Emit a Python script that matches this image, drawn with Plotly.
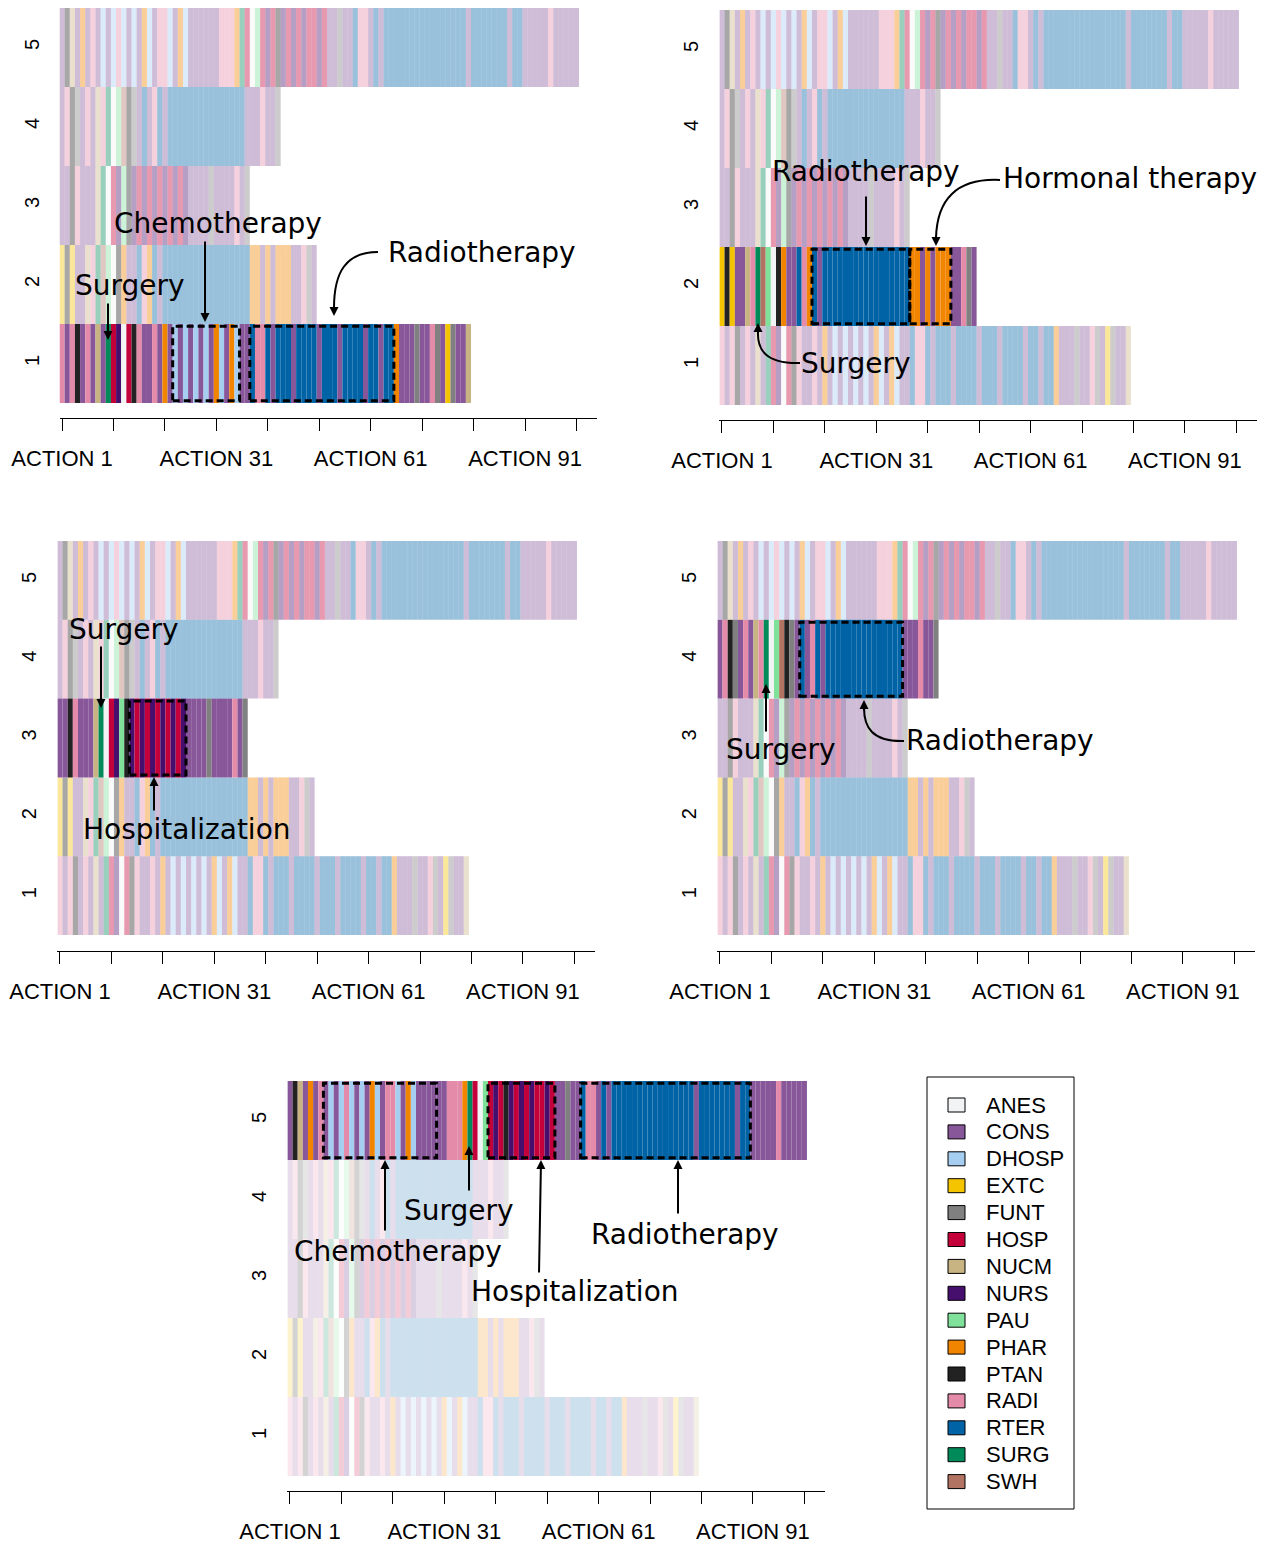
import plotly.graph_objects as go

W, H = 1274, 1544

# ---------------- data ----------------
STATES = ["ANES", "CONS", "DHOSP", "EXTC", "FUNT", "HOSP", "NUCM", "NURS",
          "PAU", "PHAR", "PTAN", "RADI", "RTER", "SURG", "SWH"]
STATE_COLORS = ["#F2F3F5", "#88579A", "#A6CEF0", "#F5C400", "#808080", "#C4003A",
                "#C8B482", "#460F6E", "#80E29A", "#F28500", "#222222", "#E58BAA",
                "#0063A6", "#008A5A", "#B37363"]

SEQ_1 = ["RADI", "CONS", "RADI", "PTAN", "CONS", "RADI", "CONS", "NUCM", "CONS", "SURG",
         "HOSP", "NURS", "ANES", "HOSP", "PTAN", "RADI", "CONS", "CONS", "RADI", "CONS",
         "PHAR", "CONS", "DHOSP", "CONS", "DHOSP", "CONS", "DHOSP", "CONS", "DHOSP", "CONS",
         "PHAR", "DHOSP", "CONS", "PHAR", "DHOSP", "CONS", "CONS", "RTER", "RADI", "RADI",
         "RTER", "CONS", "RTER", "RTER", "RTER", "CONS", "RTER", "RTER", "RTER", "RTER",
         "CONS", "RTER", "RTER", "RTER", "CONS", "RTER", "RTER", "RTER", "RTER", "CONS",
         "RTER", "RTER", "CONS", "RTER", "RTER", "PHAR", "CONS", "CONS", "CONS", "FUNT",
         "CONS", "CONS", "RADI", "FUNT", "CONS", "EXTC", "FUNT", "CONS", "CONS", "NUCM"]

SEQ_2 = ["EXTC", "PTAN", "EXTC", "CONS", "CONS", "NUCM", "RADI", "SURG", "SWH", "PAU",
         "ANES", "PTAN", "PHAR", "CONS", "CONS", "RTER", "RADI", "PHAR", "RTER", "CONS",
         "RTER", "RTER", "RTER", "RTER", "RTER", "RTER", "RTER", "RTER", "RTER", "RTER",
         "RTER", "RTER", "RTER", "RTER", "RTER", "RTER", "RTER", "PHAR", "PHAR", "CONS",
         "PHAR", "CONS", "PHAR", "PHAR", "PHAR", "CONS", "CONS", "RADI", "FUNT", "CONS"]

SEQ_3 = ["CONS", "CONS", "PTAN", "RADI", "CONS", "CONS", "CONS", "NUCM", "SURG", "ANES",
         "HOSP", "NURS", "PAU", "PTAN", "NURS", "HOSP", "NURS", "HOSP", "NURS", "HOSP",
         "NURS", "HOSP", "NURS", "HOSP", "NURS", "CONS", "CONS", "CONS", "CONS", "FUNT",
         "CONS", "CONS", "CONS", "CONS", "RADI", "CONS", "FUNT"]

SEQ_4 = ["CONS", "RADI", "PTAN", "FUNT", "CONS", "RADI", "CONS", "NUCM", "RADI", "SURG",
         "ANES", "PAU", "SWH", "PTAN", "FUNT", "CONS", "RTER", "CONS", "RADI", "RTER",
         "CONS", "RTER", "RTER", "RTER", "RTER", "RTER", "RTER", "RTER", "RTER", "RTER",
         "RTER", "RTER", "RTER", "RTER", "RTER", "RTER", "CONS", "CONS", "CONS", "RADI",
         "CONS", "CONS", "FUNT"]

SEQ_5 = ["CONS", "PTAN", "NUCM", "CONS", "PHAR", "CONS", "RADI", "CONS", "DHOSP", "CONS",
         "DHOSP", "RADI", "DHOSP", "CONS", "DHOSP", "CONS", "PHAR", "DHOSP", "CONS", "RADI",
         "RADI", "DHOSP", "CONS", "PHAR", "DHOSP", "CONS", "CONS", "CONS", "CONS", "CONS",
         "CONS", "RADI", "RADI", "RADI", "PHAR", "SURG", "HOSP", "ANES", "PAU", "HOSP",
         "NURS", "HOSP", "PTAN", "NURS", "HOSP", "NURS", "HOSP", "NURS", "HOSP", "HOSP",
         "NURS", "HOSP", "CONS", "CONS", "FUNT", "CONS", "CONS", "RTER", "RADI", "RADI",
         "CONS", "RTER", "CONS", "RTER", "RTER", "RTER", "RTER", "RTER", "RTER", "RTER",
         "RTER", "RTER", "RTER", "RTER", "RTER", "RTER", "RTER", "RTER", "RTER", "CONS",
         "RTER", "RTER", "RTER", "RTER", "RTER", "RTER", "RTER", "CONS", "RTER", "RTER",
         "CONS", "CONS", "CONS", "CONS", "CONS", "RADI", "CONS", "CONS", "CONS", "CONS",
         "CONS"]

SEQUENCES = [SEQ_1, SEQ_2, SEQ_3, SEQ_4, SEQ_5]
ROW_LABELS = ["1", "2", "3", "4", "5"]
TICK_VALUES = [1, 11, 21, 31, 41, 51, 61, 71, 81, 91, 101]
TICK_LABELS = ["ACTION 1", "", "", "ACTION 31", "", "", "ACTION 61", "", "", "ACTION 91", ""]

# highlighted row per panel, and highlighted spans (0-based first, last action)
HIGHLIGHT_ROW = [1, 2, 3, 4, 5]
HIGHLIGHT_SPANS = [
    [(22, 34), (37, 64)],
    [(18, 36), (37, 44)],
    [(14, 24)],
    [(16, 35)],
    [(7, 28), (39, 51), (57, 89)],
]

# ---------------- layout geometry (pixels) ----------------
PX_PER_ACTION = 5.144
X_MAX = 105.0
PANELS = [
    dict(x0=59.5, top=8, bottom=403, axis=418, alpha=0.4),
    dict(x0=719.4, top=10, bottom=405, axis=420, alpha=0.4),
    dict(x0=57.4, top=541, bottom=935, axis=951, alpha=0.4),
    dict(x0=717.4, top=541, bottom=935, axis=951, alpha=0.4),
    dict(x0=287.4, top=1081, bottom=1476, axis=1491, alpha=0.2),
]


def fx(x):
    return x / W


def fy(y):
    return 1 - y / H


def rgba(hexc, a):
    h = hexc.lstrip("#")
    r, g, b = int(h[0:2], 16), int(h[2:4], 16), int(h[4:6], 16)
    return f"rgba({r},{g},{b},{a})"


state_color = dict(zip(STATES, STATE_COLORS))

fig = go.Figure()
layout = dict(
    width=W, height=H, margin=dict(l=0, r=0, t=0, b=0, pad=0, autoexpand=False),
    paper_bgcolor="white", plot_bgcolor="white",
    barmode="overlay", showlegend=False,
    font=dict(family="Liberation Sans, Arial, sans-serif", color="black"),
)
shapes = []
annotations = []

for p, cfg in enumerate(PANELS, start=1):
    hl = HIGHLIGHT_ROW[p - 1]
    xs, bases, cols = [], [], []
    for r, seq in enumerate(SEQUENCES, start=1):
        a = 1.0 if r == hl else cfg["alpha"]
        for i, s in enumerate(seq):
            xs.append(i + 1)
            bases.append(r - 0.5)
            cols.append(rgba(state_color[s], a))
    xa = "x" if p == 1 else f"x{p}"
    ya = "y" if p == 1 else f"y{p}"
    fig.add_trace(go.Bar(
        x=xs, y=[1] * len(xs), base=bases, width=1,
        marker=dict(color=cols, line=dict(width=0)),
        xaxis=xa, yaxis=ya, hoverinfo="skip", showlegend=False,
    ))
    x1px = cfg["x0"] + (X_MAX - 0.5) * PX_PER_ACTION
    xkey = "xaxis" if p == 1 else f"xaxis{p}"
    ykey = "yaxis" if p == 1 else f"yaxis{p}"
    layout[xkey] = dict(
        domain=[fx(cfg["x0"]), fx(x1px)], range=[0.5, X_MAX],
        anchor="free", position=fy(cfg["axis"]), automargin=False,
        showline=True, linecolor="black", linewidth=1,
        ticks="outside", ticklen=12, tickwidth=1, tickcolor="black",
        tickvals=TICK_VALUES, ticktext=TICK_LABELS,
        tickfont=dict(size=22, family="Liberation Sans, Arial", color="black"),
        ticklabelstandoff=9,
        showgrid=False, zeroline=False, fixedrange=True,
    )
    layout[ykey] = dict(
        domain=[fy(cfg["bottom"]), fy(cfg["top"])], range=[0.5, 5.5],
        anchor=xa, automargin=False, tickvals=[1, 2, 3, 4, 5], ticktext=ROW_LABELS,
        tickangle=-90, ticks="", showline=False, showgrid=False, zeroline=False,
        tickfont=dict(size=20, family="Liberation Sans, Arial", color="black"),
        ticklabelstandoff=16, fixedrange=True,
    )
    for (s0, s1) in HIGHLIGHT_SPANS[p - 1]:
        shapes.append(dict(
            type="rect", xref=xa, yref=ya,
            x0=s0 + 0.5, x1=s1 + 1.5, y0=hl - 0.47, y1=hl + 0.47,
            line=dict(color="black", width=3, dash="7px,4px"),
            fillcolor="rgba(0,0,0,0)",
        ))

# ---------------- annotation texts ----------------
LABEL_FONT = dict(family="DejaVu Sans", size=28, color="black")
TEXTS = [
    ("Chemotherapy", 218, 224), ("Surgery", 130, 285), ("Radiotherapy", 482, 252),
    ("Radiotherapy", 866, 172), ("Hormonal therapy", 1130, 179), ("Surgery", 856, 364),
    ("Surgery", 124, 629), ("Hospitalization", 187, 829),
    ("Surgery", 781, 750), ("Radiotherapy", 1000, 741),
    ("Chemotherapy", 398, 1251), ("Surgery", 459, 1210),
    ("Hospitalization", 575, 1291), ("Radiotherapy", 685, 1234),
]
for t, cx, cy in TEXTS:
    annotations.append(dict(
        text=t, x=fx(cx), y=fy(cy), xref="paper", yref="paper",
        xanchor="center", yanchor="middle", showarrow=False, font=LABEL_FONT,
    ))

# straight arrows: tail (x, y) -> tip (x, y)
STRAIGHT_ARROWS = [
    (205, 240, 205, 322), (108, 302, 108, 340),
    (866, 195, 866, 246),
    (101, 645, 101, 708), (154, 812, 154, 777),
    (766, 733, 766, 684),
    (385, 1232, 385, 1160), (469, 1192, 469, 1146),
    (539, 1274, 541, 1160), (678, 1215, 678, 1160),
]
for tx, ty, hx, hy in STRAIGHT_ARROWS:
    annotations.append(dict(
        text="", x=fx(hx), y=fy(hy), xref="paper", yref="paper",
        ax=tx - hx, ay=ty - hy, axref="pixel", ayref="pixel",
        showarrow=True, arrowhead=2, arrowsize=0.9, arrowwidth=2,
        arrowcolor="black", standoff=0,
    ))

# curved arrows: start, control1, control2, end, tip
CURVES = [
    ((378, 252), (346, 252), (334, 272), (334, 308), (334, 316)),
    ((1000, 180), (956, 178), (937, 200), (936, 238), (936, 246)),
    ((800, 363), (766, 364), (757, 350), (758, 331), (758, 323)),
    ((904, 741), (872, 742), (864, 727), (864, 708), (864, 700)),
]
for (s, c1, c2, e, tip) in CURVES:
    path = (f"M {fx(s[0])},{fy(s[1])} C {fx(c1[0])},{fy(c1[1])} "
            f"{fx(c2[0])},{fy(c2[1])} {fx(e[0])},{fy(e[1])}")
    shapes.append(dict(type="path", xref="paper", yref="paper", path=path,
                       line=dict(color="black", width=2)))
    annotations.append(dict(
        text="", x=fx(tip[0]), y=fy(tip[1]), xref="paper", yref="paper",
        ax=e[0] - tip[0], ay=(e[1] - tip[1]) * 1.5, axref="pixel", ayref="pixel",
        showarrow=True, arrowhead=2, arrowsize=0.9, arrowwidth=2,
        arrowcolor="black", standoff=0,
    ))

# ---------------- legend ----------------
LEG_BOX = (927, 1077, 1074, 1509)
shapes.append(dict(type="rect", xref="paper", yref="paper",
                   x0=fx(LEG_BOX[0]), x1=fx(LEG_BOX[2]),
                   y0=fy(LEG_BOX[3]), y1=fy(LEG_BOX[1]),
                   line=dict(color="black", width=1), fillcolor="white", layer="below"))
for k, (st, col) in enumerate(zip(STATES, STATE_COLORS)):
    yc = 1105 + 26.9 * k
    shapes.append(dict(type="rect", xref="paper", yref="paper",
                       x0=fx(948), x1=fx(965), y0=fy(yc + 7), y1=fy(yc - 7),
                       line=dict(color="black", width=1), fillcolor=col))
    annotations.append(dict(text=st, x=fx(984), y=fy(yc), xref="paper", yref="paper",
                            xanchor="left", yanchor="middle", showarrow=False,
                            font=dict(family="Liberation Sans, Arial", size=22, color="black")))

layout["shapes"] = shapes
layout["annotations"] = annotations
fig.update_layout(**layout)

fig.write_html("out.html", config={"displayModeBar": False},
               post_script="document.body.style.margin='0';")
